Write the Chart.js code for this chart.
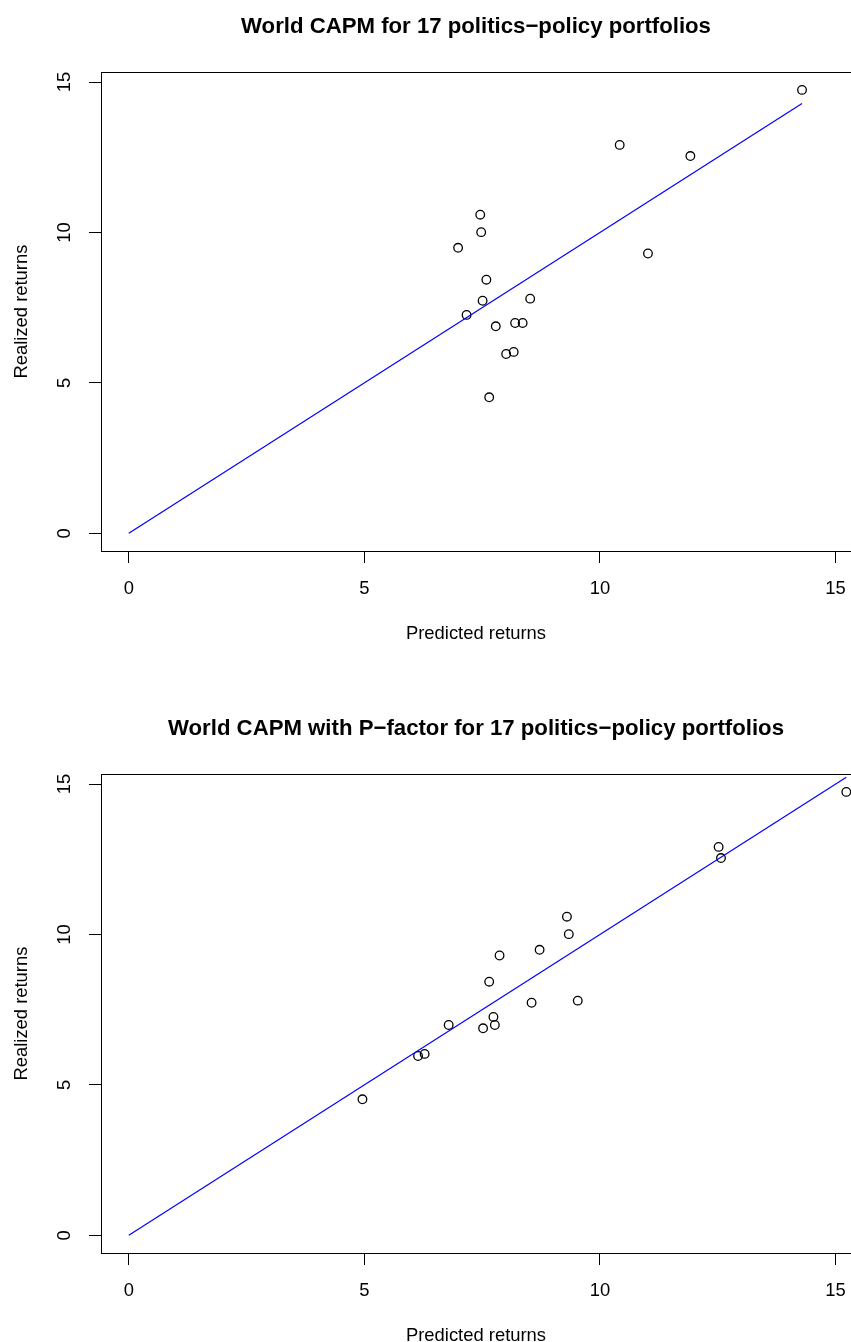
<!DOCTYPE html>
<html>
<head>
<meta charset="utf-8">
<script src="https://cdn.jsdelivr.net/npm/chart.js@4.4.0/dist/chart.umd.min.js"></script>
<style>
    body { margin: 0; background: #fff; overflow: hidden; }
    #wrap { position: relative; width: 851px; height: 1342px; overflow: hidden; }
    canvas { position: absolute; left: 0; }
    #c1 { top: 0; }
    #c2 { top: 702px; }
</style>
</head>
<body>
<div id="wrap">
    <canvas id="c1" width="851" height="702"></canvas>
    <canvas id="c2" width="851" height="702"></canvas>
</div>
<script>
// realized returns of the 17 portfolios (same in both panels)
var realized = [14.74, 12.91, 12.54, 10.59, 10.01, 9.49, 9.30, 8.43, 7.80, 7.73, 7.26, 6.99, 6.99, 6.88, 6.03, 5.96, 4.52];
// predicted returns, world CAPM
var predCapm = [14.29, 10.42, 11.92, 7.46, 7.48, 6.99, 11.02, 7.59, 8.52, 7.51, 7.17, 8.20, 8.36, 7.79, 8.17, 8.01, 7.65];
// predicted returns, world CAPM + P-factor
var predPfactor = [15.23, 12.52, 12.57, 9.30, 9.34, 8.72, 7.87, 7.65, 9.53, 8.55, 7.74, 7.77, 6.79, 7.52, 6.28, 6.14, 4.96];
var tickVals = [0, 5, 10, 15];

var title1 = 'World CAPM for 17 politics\u2212policy portfolios';
var title2 = 'World CAPM with P\u2212factor for 17 politics\u2212policy portfolios';

Chart.defaults.font.family = '"Liberation Sans", Arial, Helvetica, sans-serif';
Chart.defaults.color = '#000';

// same limits as R: range(0, realized) plus 4% on each side
var hi = Math.max.apply(null, realized);
var lo = 0;
var pad = (hi - lo) * 0.04;

var boxPlugin = {
    id: 'box',
    afterDraw: function (chart) {
        var a = chart.chartArea, ctx = chart.ctx;
        ctx.save();
        ctx.strokeStyle = '#000';
        ctx.lineWidth = 1;
        ctx.strokeRect(Math.round(a.left) + 0.5, Math.round(a.top) + 0.5, Math.round(a.right - a.left), Math.round(a.bottom - a.top));
        ctx.restore();
    }
};

function fixTicks(scale) {
    scale.ticks = tickVals.map(function (v) { return {value: v}; });
}

function makeChart(id, title, pred) {
    var pts = [];
    for (var i = 0; i < pred.length; i++) {
        pts.push({x: pred[i], y: realized[i]});
    }
    var m = Math.max.apply(null, pred);
    new Chart(document.getElementById(id), {
        type: 'scatter',
        data: {
            datasets: [
                {
                    data: [{x: 0, y: 0}, {x: m, y: m}],
                    showLine: true,
                    borderColor: '#0000ff',
                    borderWidth: 1.2,
                    pointRadius: 0,
                    order: 0
                },
                {
                    data: pts,
                    pointStyle: 'circle',
                    pointRadius: 4.3,
                    pointBorderWidth: 1.3,
                    pointBorderColor: '#000',
                    pointBackgroundColor: 'rgba(0,0,0,0)',
                    order: 1
                }
            ]
        },
        options: {
            responsive: false,
            animation: false,
            events: [],
            layout: {padding: 0, autoPadding: false},
            plugins: {
                legend: {display: false},
                tooltip: {enabled: false},
                title: {
                    display: true,
                    text: title,
                    fullSize: false,
                    color: '#000',
                    font: {size: 22.2, weight: 'bold'},
                    padding: {top: 13.5, bottom: 32}
                }
            },
            scales: {
                x: {
                    type: 'linear',
                    min: lo - pad,
                    max: hi + pad,
                    afterBuildTicks: fixTicks,
                    afterFit: function (s) { s.height = 151; s.paddingLeft = 0; s.paddingRight = 0; },
                    grid: {drawOnChartArea: false, tickLength: 12, color: '#000', lineWidth: 1},
                    border: {display: false},
                    ticks: {font: {size: 18.4}, padding: 14.4, maxRotation: 0},
                    title: {display: true, text: 'Predicted returns', font: {size: 18.4}, padding: {top: 0, bottom: 57.5}}
                },
                y: {
                    type: 'linear',
                    min: lo - pad,
                    max: hi + pad,
                    afterBuildTicks: fixTicks,
                    afterFit: function (s) { s.width = 101; s.paddingTop = 0; s.paddingBottom = 0; },
                    grid: {drawOnChartArea: false, tickLength: 12, color: '#000', lineWidth: 1},
                    border: {display: false},
                    ticks: {font: {size: 18.4}, padding: 14.3, minRotation: 90, maxRotation: 90, crossAlign: 'center'},
                    title: {display: true, text: 'Realized returns', font: {size: 18.4}, padding: {top: 11, bottom: 0}}
                }
            }
        },
        plugins: [boxPlugin]
    });
}

makeChart('c1', title1, predCapm);
makeChart('c2', title2, predPfactor);
</script>
</body>
</html>
